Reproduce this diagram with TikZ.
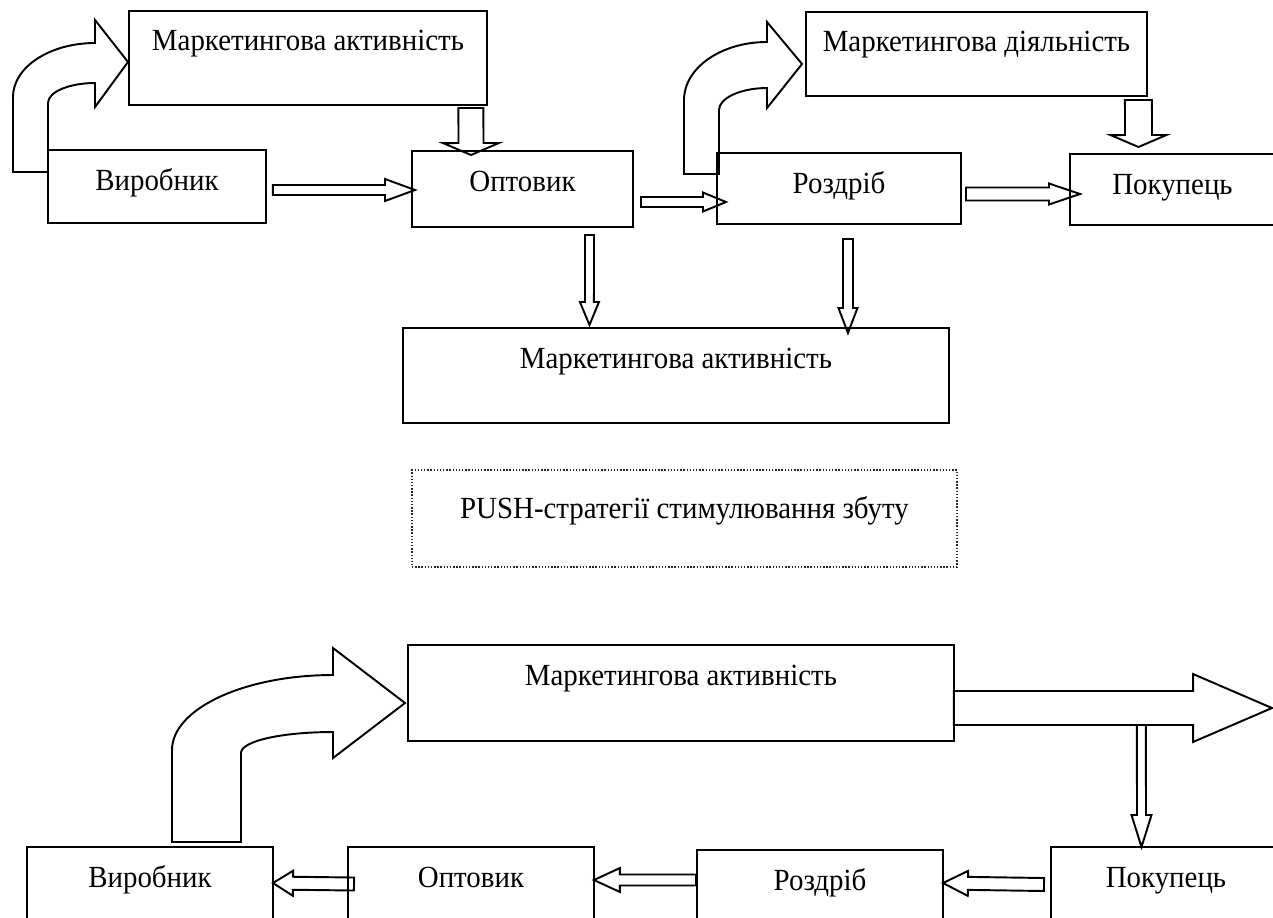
\documentclass[tikz,border=0pt]{standalone}
\usepackage{fontspec}
\setmainfont{Liberation Serif}[FakeStretch=0.94]
\usetikzlibrary{calc}

\tikzset{
  box/.style={draw, line width=1.1pt, inner sep=0pt, outer sep=0pt, anchor=north west, text height=0.8cm},
  pushbox/.style={draw=black!85, densely dotted, line width=0.8pt, inner sep=0pt, outer sep=0pt, anchor=north west, text height=0.96cm},
  bent/.style={draw, line width=1.1pt, line join=miter},
  hollow/.style n args={3}{draw, line width=1.1pt, line join=miter, to path={
      ($(\tikztostart)!#1!90:(\tikztotarget)$)
      -- ($($(\tikztotarget)!#3!(\tikztostart)$)!#1!90:(\tikztotarget)$)
      -- ($($(\tikztotarget)!#3!(\tikztostart)$)!#2!90:(\tikztotarget)$)
      -- (\tikztotarget)
      -- ($($(\tikztotarget)!#3!(\tikztostart)$)!#2!-90:(\tikztotarget)$)
      -- ($($(\tikztotarget)!#3!(\tikztostart)$)!#1!-90:(\tikztotarget)$)
      -- ($(\tikztostart)!#1!-90:(\tikztotarget)$)
      -- cycle}},
}

\begin{document}
\begin{tikzpicture}[x=0.02cm, y=-0.02cm, font=\fontsize{17.5}{20}\selectfont]
\useasboundingbox (0,0) rectangle (1273,917);
\clip (0,0) rectangle (1273,917);

\node[box, minimum width=4.36cm, text depth=0.66cm] (vyr) at (48,150) {Виробник};
\node[box, minimum width=4.42cm, text depth=0.72cm] (opt) at (412,151) {Оптовик};
\node[box, minimum width=4.88cm, text depth=0.62cm] (rozd) at (717,153) {Роздріб};
\node[box, minimum width=4.10cm, text depth=0.62cm] (pok) at (1070,154) {Покупець};
\node[box, minimum width=7.16cm, text depth=1.08cm] (ma1) at (129,11) {Маркетингова активність};
\node[box, minimum width=6.82cm, text depth=0.88cm] (md) at (806,12) {Маркетингова діяльність};
\node[box, minimum width=10.92cm, text depth=1.10cm] (ma2) at (403,328) {Маркетингова активність};
\node[pushbox, minimum width=10.90cm, text depth=0.98cm] (push) at (412,470) {PUSH-стратегії стимулювання збуту};
\node[box, minimum width=10.92cm, text depth=1.12cm] (ma3) at (408,645) {Маркетингова активність};
\node[box, minimum width=4.92cm, text depth=1.20cm] (vyr2) at (27,847) {Виробник};
\node[box, minimum width=4.92cm, text depth=1.20cm] (opt2) at (348,847) {Оптовик};
\node[box, minimum width=4.92cm, text depth=1.20cm] (rozd2) at (697,850) {Роздріб};
\node[box, minimum width=4.60cm, text depth=1.20cm] (pok2) at (1051,847) {Покупець};

\draw[hollow={0.1cm}{0.22cm}{0.6cm}] ($(vyr.east)+(7,3.5)$) to ($(opt.west)+(3,1)$);
\draw[hollow={0.1cm}{0.19cm}{0.46cm}] ($(opt.east)+(8,13)$) to ($(rozd.west)+(9,13.5)$);
\draw[hollow={0.13cm}{0.21cm}{0.62cm}] ($(rozd.east)+(5,5.5)$) to ($(pok.west)+(10,4.5)$);
\draw[hollow={0.25cm}{0.56cm}{0.24cm}] ($(ma1.south east)+(-16,3)$) to ($(opt.north west)+(59,4)$);
\draw[hollow={0.27cm}{0.56cm}{0.24cm}] ($(md.south east)+(-8.5,4)$) to ($(pok.north west)+(68.5,-7)$);
\draw[hollow={0.09cm}{0.19cm}{0.46cm}] ($(opt.south)+(67,8)$) to ($(ma2.north)+(-86.5,-3)$);
\draw[hollow={0.1cm}{0.19cm}{0.5cm}] ($(rozd.south)+(9,15)$) to ($(ma2.north)+(172,5)$);

\draw[bent] (13,172) -- (13,97) .. controls (13,67) and (50,43) .. (95,43) -- (95,20) -- (128,62)
  -- (95,107) -- (95,83) .. controls (69,83) and (48,92) .. (48,103) -- (48,172) -- cycle;
\draw[bent] (684,174) -- (684,100) .. controls (684,68) and (721,42) .. (767,42) -- (767,22) -- (802,64)
  -- (767,108) -- (767,88) .. controls (741,88) and (719,98) .. (719,110) -- (719,174) -- cycle;
\draw[bent] (172,842) -- (172,750) .. controls (172,709) and (244,675) .. (333,675) -- (333,648) -- (405,703)
  -- (333,758) -- (333,732) .. controls (282,732) and (241,741) .. (241,753) -- (241,842) -- cycle;

\coordinate (mkt) at (1272,708);
\coordinate (fork) at ($(ma3.east)+(187.5,32)$);
\draw[hollow={0.34cm}{0.68cm}{1.58cm}] ($(ma3.east)+(0,15)$) to (mkt);
\draw[hollow={0.09cm}{0.2cm}{0.64cm}] (fork) to ($(pok2.north west)+(90.5,0)$);
\draw[hollow={0.13cm}{0.25cm}{0.4cm}] ($(opt2.north west)+(6,37)$) to ($(vyr2.north east)+(0,36)$);
\draw[hollow={0.11cm}{0.24cm}{0.52cm}] ($(rozd2.north west)+(-1,30)$) to ($(opt2.north east)+(0,33)$);
\draw[hollow={0.13cm}{0.25cm}{0.5cm}] ($(pok2.north west)+(-7,37.5)$) to ($(rozd2.north east)+(0,33)$);
\end{tikzpicture}
\end{document}
